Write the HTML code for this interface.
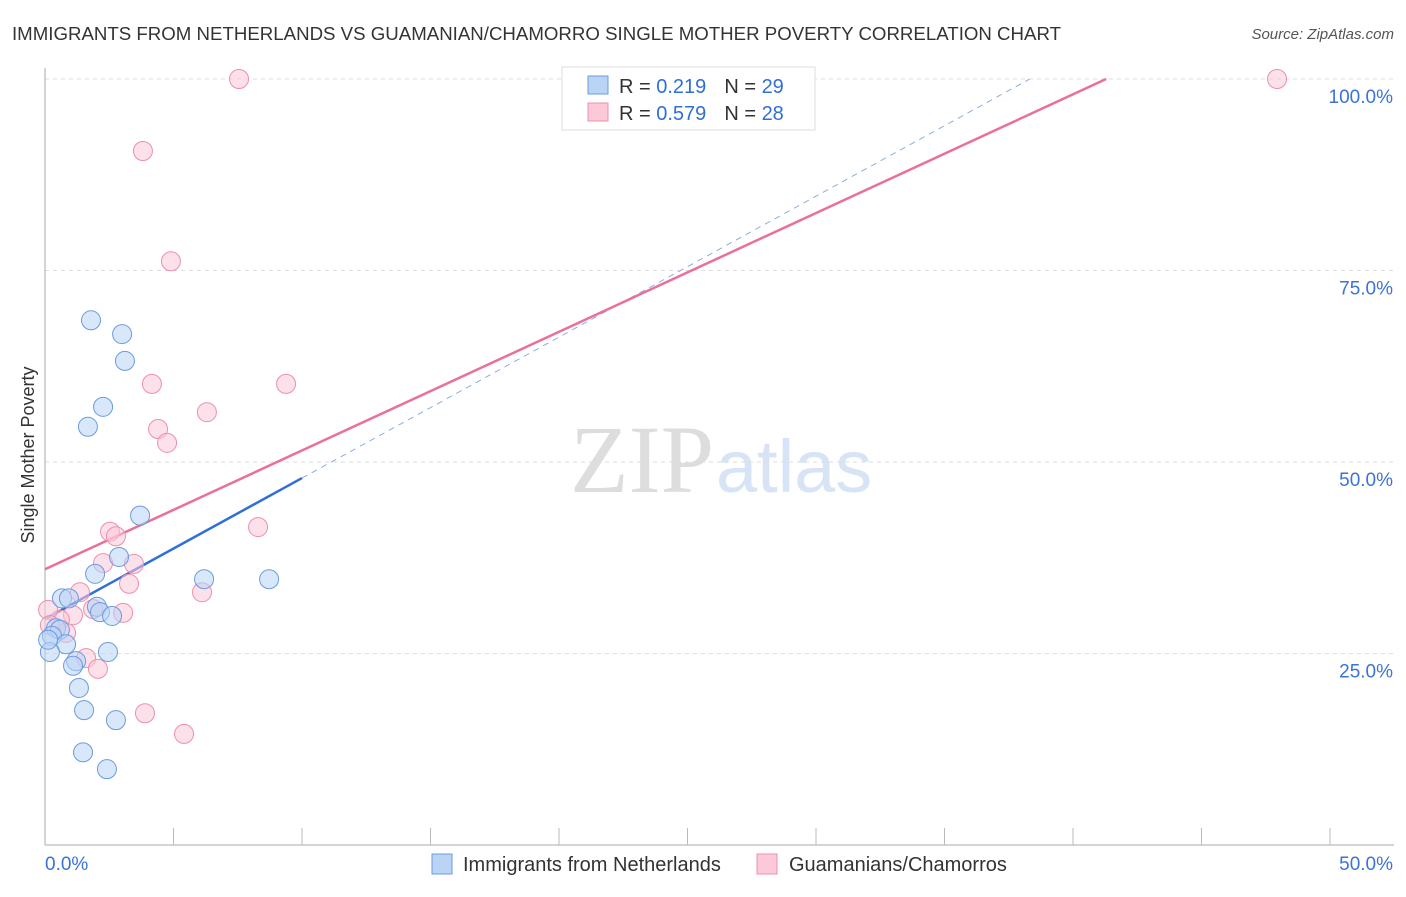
<!DOCTYPE html>
<html><head><meta charset="utf-8"><style>
body{margin:0;background:#fff;font-family:"Liberation Sans",sans-serif}
</style></head><body>
<svg id="c" width="1406" height="892" xmlns="http://www.w3.org/2000/svg">
<text x="12" y="40" font-size="18" fill="#333" textLength="1049" lengthAdjust="spacingAndGlyphs">IMMIGRANTS FROM NETHERLANDS VS GUAMANIAN/CHAMORRO SINGLE MOTHER POVERTY CORRELATION CHART</text>
<text x="1394" y="39" font-size="15" fill="#555" font-style="italic" text-anchor="end">Source: ZipAtlas.com</text>
<text transform="translate(34,455) rotate(-90)" font-size="18" fill="#333" text-anchor="middle">Single Mother Poverty</text>
<text x="714" y="492" font-size="96" fill="#ddd" text-anchor="end" font-family="Liberation Serif">ZIP</text>
<text x="716" y="492" font-size="74" fill="#d6e4f5">atlas</text>
<g id="grid"></g><g id="axes"></g><g id="lines"></g><g id="pts"></g>
<g>
<rect x="562" y="67" width="253" height="63" fill="#fff" stroke="#ddd"/>
<rect x="588" y="76" width="20" height="18" fill="#b9d4f5" stroke="#6a9be0"/>
<rect x="588" y="103" width="20" height="18" fill="#fbc9d8" stroke="#ee8fac"/>
<text x="619" y="93" font-size="20" fill="#333">R = <tspan fill="#2f6fd8"> 0.219</tspan><tspan dx="18">N = </tspan><tspan fill="#2f6fd8">29</tspan></text>
<text x="619" y="120" font-size="20" fill="#333">R = <tspan fill="#2f6fd8">0.579</tspan><tspan dx="18">N = </tspan><tspan fill="#2f6fd8">28</tspan></text>
</g>
<g>
<rect x="432" y="854" width="20" height="20" fill="#b9d4f5" stroke="#6a9be0"/>
<text x="463" y="871" font-size="20" fill="#333">Immigrants from Netherlands</text>
<rect x="757" y="854" width="20" height="20" fill="#fbc9d8" stroke="#ee8fac"/>
<text x="789" y="871" font-size="20" fill="#333">Guamanians/Chamorros</text>
</g>
</svg>
<script>
const blueX=[1.79,3.0,3.11,2.26,1.67,3.7,2.88,1.95,6.19,8.72,0.66,0.93,2.02,2.14,2.61,0.43,0.58,0.27,0.82,0.19,2.45,1.21,1.09,1.32,1.52,2.76,1.48,2.41,0.12];
const blueY=[68.5,66.7,63.2,57.2,54.6,43.0,37.6,35.4,34.7,34.7,32.2,32.2,31.1,30.4,29.9,28.3,28.1,27.3,26.2,25.2,25.2,24.0,23.4,20.5,17.6,16.3,12.1,9.9,26.8];
const pinkX=[7.55,47.94,3.81,4.9,4.16,9.38,6.3,4.4,4.75,8.29,2.53,2.76,2.26,3.46,3.27,6.11,1.36,1.87,3.04,1.09,0.58,0.12,0.82,1.6,2.06,3.89,5.41,0.19];
const pinkY=[100,100,90.6,76.2,60.2,60.2,56.5,54.3,52.5,41.5,40.9,40.3,36.8,36.7,34.1,33.0,33.0,30.8,30.3,30.0,29.4,30.7,27.7,24.4,23.0,17.2,14.5,28.7];
const yTicks=[25,50,75,100];
const xTickLabels=["0.0%","50.0%"];
const blueTrend=[29.5,1.84], pinkTrend=[36.0,1.55];
const NS="http://www.w3.org/2000/svg";
const X=v=>45+v/50*1285, Y=v=>845-v*7.66;
function mk(p,t,a){const e=document.createElementNS(NS,t);for(const k in a)e.setAttribute(k,a[k]);document.getElementById(p).appendChild(e);return e;}
yTicks.forEach(t=>{
 const l=mk('grid','line',{x1:45,x2:1394,y1:Y(t),y2:Y(t),stroke:'#ddd','stroke-dasharray':'4,4'});
 
 
 const tx=mk('grid','text',{x:1393,y:Y(t)+24,'font-size':19,fill:'#3b73d6','text-anchor':'end'});tx.textContent=t.toFixed(1)+'%';
 
 
});
mk('axes','line',{x1:45,x2:45,y1:68,y2:845,stroke:'#aaa'});
mk('axes','line',{x1:45,x2:1394,y1:845,y2:845,stroke:'#aaa'});
for(let i=1;i<=10;i++){const l=mk('axes','line',{x1:X(i*5),x2:X(i*5),y1:828,y2:845,stroke:'#bbb'});}
let t1=mk('axes','text',{x:45,y:870,'font-size':19,fill:'#3b73d6'});t1.textContent=xTickLabels[0];

let t2=mk('axes','text',{x:1393,y:870,'font-size':19,fill:'#3b73d6','text-anchor':'end'});t2.textContent=xTickLabels[1];

function pts(xs,ys,f,s,n){xs.forEach((x,i)=>{const c=mk('pts','circle',{cx:X(x),cy:Y(ys[i]),r:9.5,fill:f,'fill-opacity':0.55,stroke:s,'stroke-width':1});
 
 });}
const bxEnd=(100-blueTrend[0])/blueTrend[1];
let bl=mk('lines','line',{x1:X(0),y1:Y(blueTrend[0]),x2:X(10),y2:Y(blueTrend[0]+blueTrend[1]*10),stroke:'#2f6fd8','stroke-width':2.5});

let bd=mk('lines','line',{x1:X(10),y1:Y(blueTrend[0]+blueTrend[1]*10),x2:X(bxEnd),y2:Y(100),stroke:'#8aaee0','stroke-width':1,'stroke-dasharray':'6,5'});

const pxEnd=(100-pinkTrend[0])/pinkTrend[1];
let pl=mk('lines','line',{x1:X(0),y1:Y(pinkTrend[0]),x2:X(pxEnd),y2:Y(100),stroke:'#e8709a','stroke-width':2.5});

pts(pinkX,pinkY,'#fbc9d8','#ee8fac','pink-point');
pts(blueX,blueY,'#b9d4f5','#6a9be0','blue-point');
</script>
</body></html>
